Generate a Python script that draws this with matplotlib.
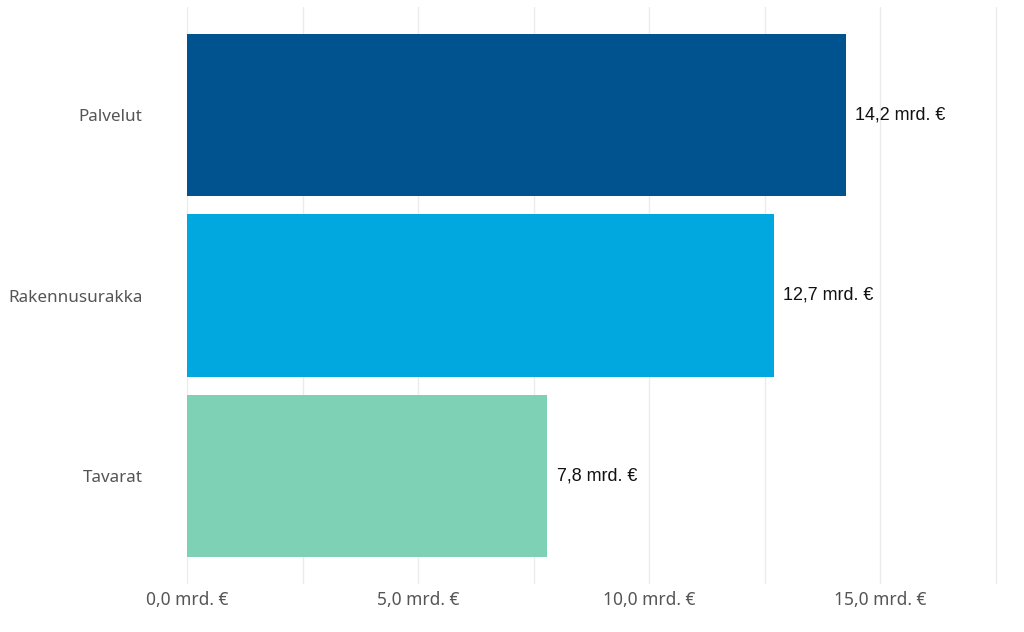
import matplotlib
matplotlib.use("Agg")
from matplotlib import pyplot as plt
from matplotlib.ticker import MultipleLocator, FuncFormatter

categories = ["Palvelut", "Rakennusurakka", "Tavarat"]
values = [14.25, 12.7, 7.8]
colors = ["#00538F", "#00A8DF", "#7FD1B5"]
value_labels = ["14,2 mrd. €", "12,7 mrd. €", "7,8 mrd. €"]

fig = plt.figure(figsize=(10.24, 6.32), dpi=100)
ax = fig.add_axes([187 / 1024, 48 / 632, 818 / 1024, 577 / 632])

y = list(range(len(categories)))
ax.barh(y, values, height=0.9, color=colors, zorder=2)

for yi, v, lab in zip(y, values, value_labels):
    ax.text(v + 0.2, yi, lab, va="center", ha="left", fontsize=12.9,
            family="Liberation Sans", color="#111111")

ax.set_ylim(len(categories) - 0.4, -0.6)
ax.set_xlim(0, 17.7)
ax.set_yticks(y)
ax.set_yticklabels(categories, fontsize=12.3, color="#555555", family="Noto Sans")

ax.xaxis.set_major_locator(MultipleLocator(5))
ax.xaxis.set_minor_locator(MultipleLocator(2.5))
ax.xaxis.set_major_formatter(FuncFormatter(lambda x, p: f"{x:.1f}".replace(".", ",") + " mrd. €"))
for lab in ax.get_xticklabels():
    lab.set_family("Noto Sans")
ax.tick_params(axis="x", which="both", length=0, labelsize=12.5, labelcolor="#555555", pad=5)
ax.tick_params(axis="y", length=0, pad=32)
ax.grid(axis="x", which="both", color="#ebebeb", linewidth=1, zorder=0)
ax.set_axisbelow(True)
for s in ax.spines.values():
    s.set_visible(False)

plt.savefig("out.png")
